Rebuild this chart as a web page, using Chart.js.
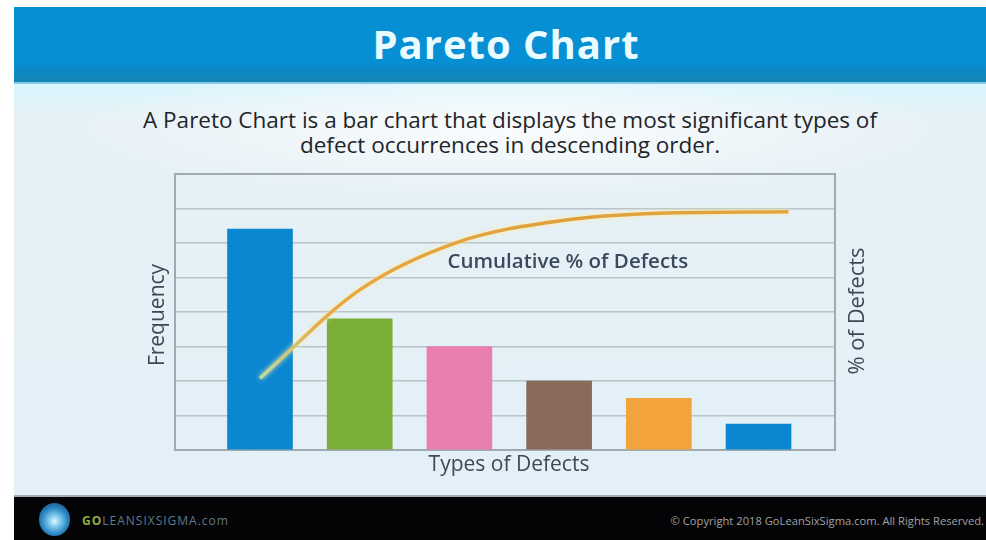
<!DOCTYPE html>
<html lang="en">
<head>
    <meta charset="UTF-8">
    <meta name="viewport" content="width=device-width, initial-scale=1.0">
    <title>Pareto Chart</title>
    <script src="https://cdn.jsdelivr.net/npm/chart.js"></script>
    <style>
        html, body {
            margin: 0;
            padding: 0;
            width: 986px;
            height: 540px;
            overflow: hidden;
            background: #ffffff;
            font-family: 'Open Sans', 'DejaVu Sans', sans-serif;
        }

        .page {
            position: absolute;
            left: 14px;
            top: 84px;
            width: 972px;
            height: 411px;
            background:
                radial-gradient(ellipse 450px 70px at 496px 45px, rgba(255, 255, 255, 0.8), rgba(255, 255, 255, 0)),
                linear-gradient(#d8f5fd, #e6f1f6 8%, #e3f0f7 100%);
        }

        .header {
            position: absolute;
            left: 14px;
            top: 7px;
            width: 972px;
            height: 75px;
            background: linear-gradient(#078fd4 0%, #078fd4 72%, #0a89c9 82%, #1584b3 100%);
            border-bottom: 2px solid #86cbe6;
        }

        .header h1 {
            position: absolute;
            left: 0;
            width: 984px;
            top: 14px;
            margin: 0;
            text-align: center;
            color: #eafcff;
            font-size: 40px;
            font-weight: 700;
            letter-spacing: 1px;
            line-height: 46px;
        }

        .subtitle {
            position: absolute;
            left: 0;
            width: 1020px;
            top: 107px;
            margin: 0;
            text-align: center;
            color: #1f2529;
            font-size: 22.5px;
            line-height: 25px;
        }

        canvas {
            position: absolute;
            left: 0;
            top: 0;
        }

        .footer {
            position: absolute;
            left: 14px;
            top: 495px;
            width: 972px;
            height: 43px;
            background: #040406;
            border-top: 2px solid #a6adb1;
        }

        .logo {
            position: absolute;
            left: 25px;
            top: 6px;
            width: 31px;
            height: 33px;
            border-radius: 50%;
            background: radial-gradient(circle at 50% 55%, #e2f7ff 0%, #86cdef 22%, #2a86c2 55%, #0d3f66 100%);
        }

        .brand {
            position: absolute;
            left: 68px;
            top: 15px;
            color: #5f7a89;
            font-size: 12px;
            letter-spacing: 1px;
        }

        .brand b {
            color: #93ae3c;
        }

        .copyright {
            position: absolute;
            right: 2px;
            top: 16px;
            color: #a2a2a2;
            font-size: 11.2px;
        }
    </style>
</head>
<body>
    <div class="page"></div>
    <div class="header"><h1>Pareto Chart</h1></div>
    <p class="subtitle">A Pareto Chart is a bar chart that displays the most significant types of<br>defect occurrences in descending order.</p>

    <canvas id="paretoCanvas" width="986" height="540"></canvas>

    <div class="footer">
        <div class="logo"></div>
        <div class="brand"><b>GO</b>LEANSIXSIGMA.com</div>
        <div class="copyright">© Copyright 2018 GoLeanSixSigma.com. All Rights Reserved.</div>
    </div>

    <script>
        // Defect categories, bar heights (frequency) and the cumulative % curve
        const defectTypes = ['Type 1', 'Type 2', 'Type 3', 'Type 4', 'Type 5', 'Type 6'];
        const frequency = [64, 38, 30, 20, 15, 7.5];
        const barColors = ['#0b86d0', '#7aae37', '#e97fb0', '#8a6a5b', '#f3a33b', '#0b86d0'];

        const cumulativeAt = [0, 1, 2, 3, 4, 5.3];
        const cumulativePct = [26, 58, 75.5, 83, 85.8, 86.3];

        // Axis ranges: frequency on the left, percentage on the right
        const freqMax = 80;
        const freqStep = 10;
        const pctMax = 100;

        const barData = frequency.map((v, i) => ({ x: i, y: v }));
        const lineData = cumulativePct.map((v, i) => ({ x: cumulativeAt[i], y: v }));

        // Text drawn around and inside the plot
        const labelsPlugin = {
            id: 'paretoLabels',
            afterDraw(chart) {
                const { ctx, chartArea, scales } = chart;
                ctx.save();
                ctx.fillStyle = '#3c4a55';
                ctx.textBaseline = 'middle';
                ctx.textAlign = 'center';

                const midY = (chartArea.top + chartArea.bottom) / 2;

                ctx.font = '21px "Open Sans", sans-serif';
                ctx.save();
                ctx.translate(chartArea.left - 17, midY + 3);
                ctx.rotate(-Math.PI / 2);
                ctx.fillText('Frequency', 0, 0);
                ctx.restore();

                ctx.font = '22px "Open Sans", sans-serif';
                ctx.save();
                ctx.translate(chartArea.right + 23, midY - 1);
                ctx.rotate(-Math.PI / 2);
                ctx.fillText('% of Defects', 0, 0);
                ctx.restore();

                ctx.font = '21px "Open Sans", sans-serif';
                ctx.fillText('Types of Defects', (chartArea.left + chartArea.right) / 2 + 4, chartArea.bottom + 15);

                ctx.textAlign = 'left';
                ctx.font = '600 20.5px "Open Sans", sans-serif';
                ctx.fillStyle = '#3a4a5c';
                ctx.fillText('Cumulative % of Defects', scales.x.getPixelForValue(1.88), scales.y2.getPixelForValue(68));
                ctx.restore();
            },
            beforeDatasetDraw(chart, args) {
                if (args.index !== 1) return;
                const ctx = chart.ctx;
                ctx.save();
                ctx.shadowColor = 'rgba(255, 236, 160, 0.95)';
                ctx.shadowBlur = 5;
            },
            afterDatasetDraw(chart, args) {
                if (args.index !== 1) return;
                chart.ctx.restore();
            }
        };

        function lineGradient(context) {
            const chart = context.chart;
            const area = chart.chartArea;
            if (!area) return '#e6a23a';
            const x = chart.scales.x;
            const g = chart.ctx.createLinearGradient(x.getPixelForValue(0), 0, x.getPixelForValue(5.3), 0);
            g.addColorStop(0, '#bcdca0');
            g.addColorStop(0.12, '#e8a845');
            g.addColorStop(0.6, '#dfa03a');
            g.addColorStop(1, '#e6a53e');
            return g;
        }

        const ctx = document.getElementById('paretoCanvas').getContext('2d');
        new Chart(ctx, {
            type: 'bar',
            data: {
                datasets: [
                    {
                        type: 'bar',
                        label: 'Frequency',
                        data: barData,
                        backgroundColor: barColors,
                        borderWidth: 0,
                        barThickness: 65,
                        xAxisID: 'x',
                        yAxisID: 'y',
                        order: 1
                    },
                    {
                        type: 'line',
                        label: 'Cumulative % of Defects',
                        data: lineData,
                        borderColor: lineGradient,
                        borderWidth: 3.5,
                        pointRadius: 0,
                        cubicInterpolationMode: 'monotone',
                        fill: false,
                        xAxisID: 'x',
                        yAxisID: 'y2',
                        order: 0
                    }
                ]
            },
            options: {
                responsive: false,
                animation: false,
                devicePixelRatio: 1,
                layout: {
                    padding: { left: 175, right: 151, top: 174, bottom: 90 }
                },
                plugins: {
                    legend: { display: false },
                    title: { display: false },
                    tooltip: {
                        callbacks: {
                            title: items => defectTypes[Math.round(items[0].parsed.x)] || ''
                        }
                    }
                },
                scales: {
                    x: {
                        type: 'linear',
                        min: -0.8526,
                        max: 5.767,
                        offset: false,
                        ticks: { display: false },
                        grid: { display: false, drawTicks: false },
                        border: { display: true, color: '#9fabb1', width: 2 }
                    },
                    y: {
                        position: 'left',
                        min: 0,
                        max: freqMax,
                        ticks: { display: false, stepSize: freqStep },
                        grid: {
                            drawTicks: false,
                            color: ctx => ctx.tick && ctx.tick.value === freqMax ? '#9fabb1' : '#b7c3c9',
                            lineWidth: ctx => ctx.tick && ctx.tick.value === freqMax ? 2 : 1.5
                        },
                        border: { display: true, color: '#9fabb1', width: 2 }
                    },
                    y2: {
                        position: 'right',
                        min: 0,
                        max: pctMax,
                        ticks: { display: false },
                        grid: { display: false, drawTicks: false },
                        border: { display: true, color: '#9fabb1', width: 2 }
                    }
                }
            },
            plugins: [labelsPlugin]
        });
    </script>
</body>
</html>
